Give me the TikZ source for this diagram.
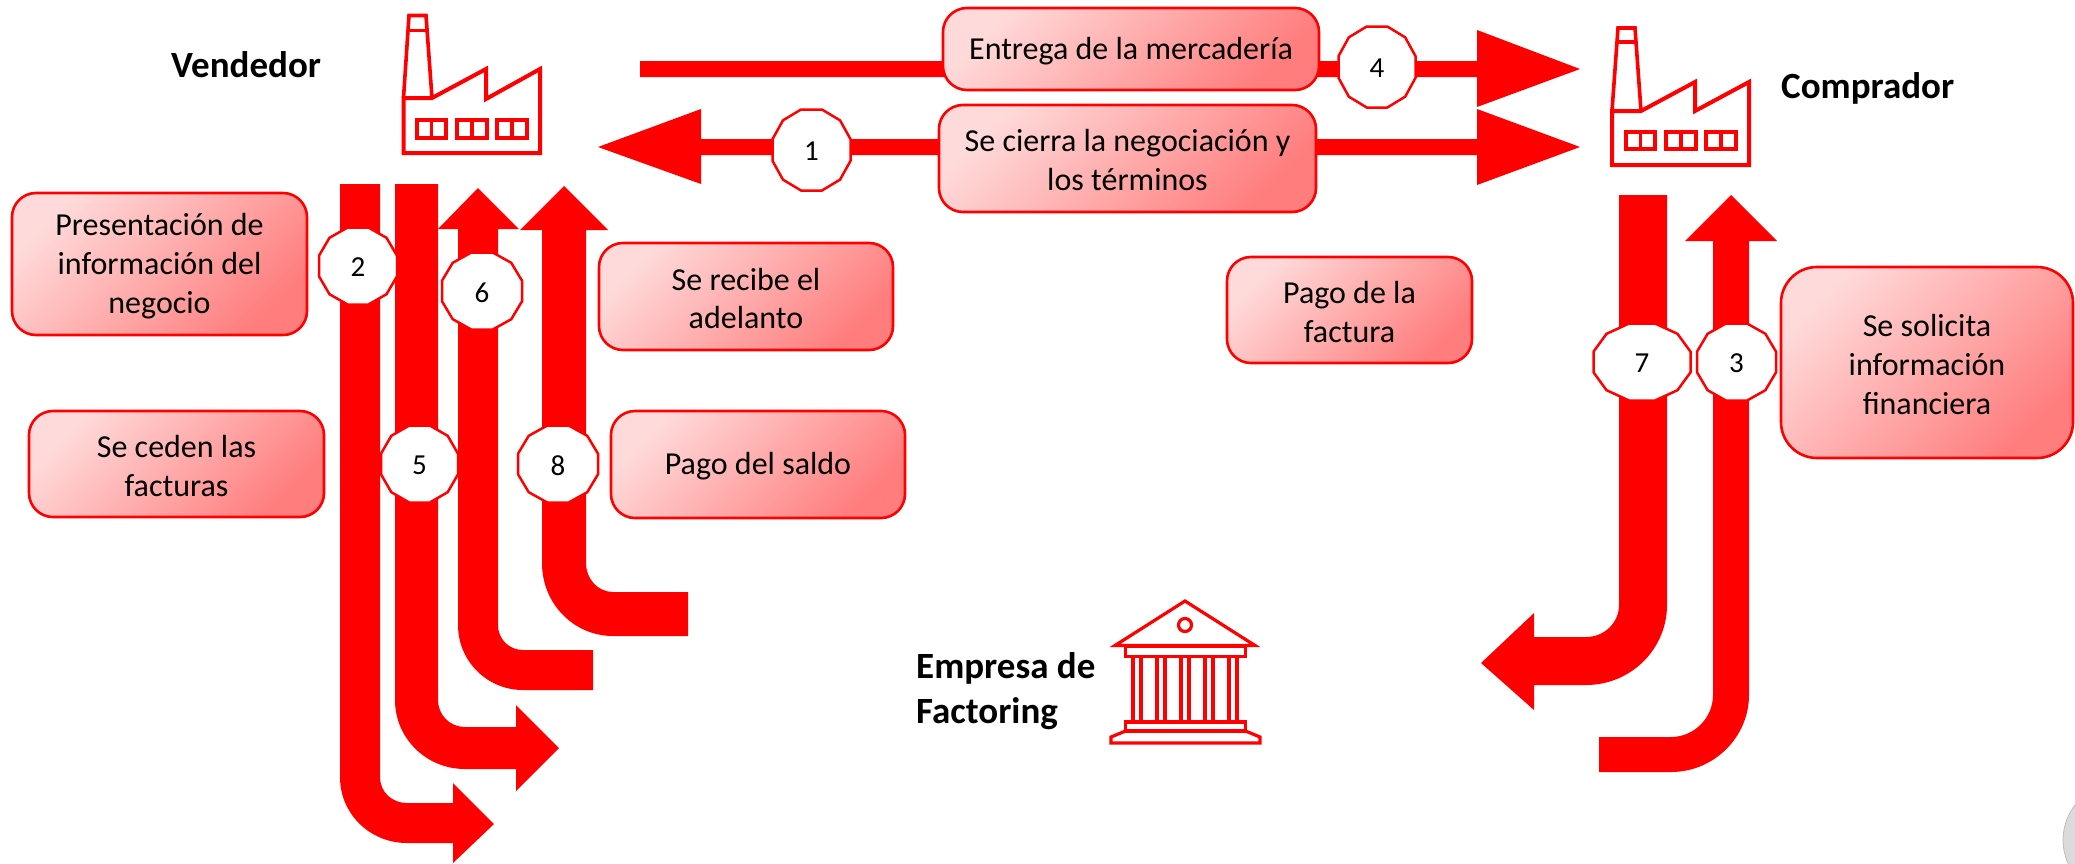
\documentclass[tikz,border=0pt]{standalone}
\usepackage{fontspec}
\setmainfont{Carlito}
\usetikzlibrary{calc}
\definecolor{rd}{RGB}{255,0,0}
\definecolor{gA}{RGB}{255,218,218}
\definecolor{gB}{RGB}{255,125,125}
\tikzset{
  band/.style={fill=rd,draw=none},
  icon/.style={draw=rd,line width=4pt,line join=miter,fill=none},
  thin icon/.style={draw=rd,line width=3.6pt,fill=none},
  bank line/.style={draw=rd,line width=3.2pt,fill=none},
  labelbox/.style={draw=rd,line width=2.6pt,rounded corners=#1,shade,shading=axis,left color=gA,right color=gB,shading angle=45,inner sep=0pt},
  labelbox/.default=24pt,
  labeltext/.style={inner sep=0pt,align=center,font=\fontsize{32}{39}\selectfont},
  num/.style={font=\fontsize{29}{32}\selectfont,inner sep=0pt},
  party/.style={font=\fontsize{37}{45}\selectfont\bfseries,inner sep=0pt,align=left,anchor=base west}
}
\newcommand{\dodeca}[6]{% name, cx, cy, rx (half width), ry (half height), text
  \fill[white,draw=rd,line width=2.5pt]
    (#2+#4,#3-0.268*#5) -- (#2+#4,#3+0.268*#5) -- (#2+0.732*#4,#3+0.732*#5) -- (#2+0.268*#4,#3+#5)
    -- (#2-0.268*#4,#3+#5) -- (#2-0.732*#4,#3+0.732*#5) -- (#2-#4,#3+0.268*#5) -- (#2-#4,#3-0.268*#5)
    -- (#2-0.732*#4,#3-0.732*#5) -- (#2-0.268*#4,#3-#5) -- (#2+0.268*#4,#3-#5) -- (#2+0.732*#4,#3-0.732*#5) -- cycle;
  \node[num] (#1) at (#2,#3+1.5) {#6};
}
\newcommand{\lbox}[7][24pt]{% radius; name, x0, y0, x1, y1, text
  \node[labelbox=#1,minimum width=#5pt-#3pt,minimum height=#6pt-#4pt] (#2) at ({(#3+#5)/2},{(#4+#6)/2}) {};
  \node[labeltext] (#2t) at ({(#3+#5)/2},{(#4+#6)/2+2}) {#7};
}
\begin{document}
\begin{tikzpicture}[x=1pt,y=-1pt]
\useasboundingbox (0,0) rectangle (2075,863);
\fill[white] (0,0) rectangle (2075,863);
% grey corner
\coordinate (cg) at (2120,840);
\begin{scope}
\clip (0,0) rectangle (2075,863);
\fill[gray!28,draw=gray!60,line width=0.6pt] (cg) circle (57);
\end{scope}
% horizontal arrows
\fill[band] (640,61) -- (1477,61) -- (1477,30) -- (1580,69) -- (1477,107) -- (1477,77) -- (640,77) -- cycle;
\fill[band] (598,147) -- (701,109) -- (701,139) -- (1477,139) -- (1477,109) -- (1580,147) -- (1477,185) -- (1477,155) -- (701,155) -- (701,184) -- cycle;
% arrow 2
\fill[band] (340,184) -- (380,184) -- (380,777) .. controls (380,792) and (392,803) .. (407,803) -- (453,803) -- (453,783) -- (494,824) -- (453,863) -- (453,843) -- (407,843) .. controls (370,843) and (340,814) .. (340,777) -- cycle;
% arrow 5
\fill[band] (395,184) -- (438,184) -- (438,700) .. controls (438,715) and (450,727) .. (465,727) -- (516,727) -- (516,705) -- (559,748) -- (516,791) -- (516,769) -- (465,769) .. controls (426,769) and (395,738) .. (395,700) -- cycle;
% arrow 6
\fill[band] (478,188) -- (519,229) -- (498,229) -- (498,625) .. controls (498,639) and (509,650) .. (523,650) -- (593,650) -- (593,690) -- (523,690) .. controls (487,690) and (458,661) .. (458,625) -- (458,229) -- (438,229) -- cycle;
% arrow 8
\fill[band] (564,186) -- (608,230) -- (586,230) -- (586,563) .. controls (586,579) and (598,592) .. (613,592) -- (688,592) -- (688,636) -- (613,636) .. controls (574,636) and (542,604) .. (542,563) -- (542,230) -- (520,230) -- cycle;
% arrow 7
\fill[band] (1619,195) -- (1667,195) -- (1667,605) .. controls (1667,649) and (1631,685) .. (1586,685) -- (1534,685) -- (1534,710) -- (1481,663) -- (1534,613) -- (1534,637) -- (1586,637) .. controls (1604,637) and (1619,623) .. (1619,605) -- cycle;
% arrow 3
\fill[band] (1731,195) -- (1777,241) -- (1749,241) -- (1749,695) .. controls (1749,737) and (1714,772) .. (1671,772) -- (1599,772) -- (1599,737) -- (1671,737) .. controls (1694,737) and (1713,718) .. (1713,695) -- (1713,241) -- (1685,241) -- cycle;
% boxes
\lbox{b2}{12}{193}{307}{335}{Presentación de\\información del\\negocio}
\lbox{b5}{29}{411}{324}{517}{Se ceden las\\facturas}
\lbox{b6}{599}{243}{893}{350}{Se recibe el\\adelanto}
\lbox{b8}{611}{411}{905}{518}{Pago del saldo}
\lbox{b4}{943}{8}{1319}{90}{Entrega de la mercadería}
\lbox{b1}{939}{105}{1316}{212}{Se cierra la negociación y\\los términos}
\lbox{b7}{1227}{257}{1472}{363}{Pago de la\\factura}
\lbox[36pt]{b3}{1781}{267}{2073}{458}{Se solicita\\información\\financiera}
% numbers
\dodeca{n1}{811.5}{150}{39}{40.5}{1}
\dodeca{n2}{358}{266}{39}{38.5}{2}
\dodeca{n3}{1736.5}{362}{39.5}{38.5}{3}
\dodeca{n4}{1377}{67}{38.5}{40.5}{4}
\dodeca{n5}{419.5}{464}{38.5}{38.5}{5}
\dodeca{n6}{482}{291}{40}{38.5}{6}
\dodeca{n7}{1642}{362}{48.5}{38.5}{7}
\dodeca{n8}{558}{464}{40}{38.5}{8}
% factory seller
\draw[icon] (403.5,98) -- (432,98) -- (486,69) -- (486,99) -- (540,69) -- (540,153) -- (403.5,153) -- cycle;
\draw[thin icon] (403.5,98) -- (409,15.5) -- (426,15.5) -- (432,98);
\draw[thin icon] (407,30.5) -- (428,30.5);
\foreach \a/\b in {417/446,457/487,497/527}{
  \draw[thin icon] (\a,120) rectangle (\b,138);
  \draw[thin icon] ({(\a+\b)/2},120) -- ({(\a+\b)/2},138);
}
% factory buyer
\draw[icon] (1612,111) -- (1641,111) -- (1695,82) -- (1695,111) -- (1749,82) -- (1749,165) -- (1612,165) -- cycle;
\draw[thin icon] (1612,111) -- (1618,28) -- (1635,28) -- (1641,111);
\draw[thin icon] (1617,42) -- (1636,42);
\foreach \a/\b in {1626/1655,1666/1696,1706/1736}{
  \draw[thin icon] (\a,132) rectangle (\b,149);
  \draw[thin icon] ({(\a+\b)/2},132) -- ({(\a+\b)/2},149);
}
% bank
\draw[bank line,line join=miter] (1115,645.5) -- (1185,601) -- (1255,645.5) -- cycle;
\draw[bank line] (1185,625) circle (6.5);
\draw[bank line] (1125.5,646) rectangle (1245.5,656.5);
\foreach \a in {1133,1141,1157,1165,1181,1189,1205,1213,1229,1237}{
  \draw[bank line] (\a,657) -- (\a,721);
}
\draw[bank line] (1125.5,722) rectangle (1245.5,731);
\draw[bank line] (1125.5,731) -- (1111,737) -- (1111,743) -- (1260,743) -- (1260,737) -- (1245.5,731);
% party labels
\node[party] (tv) at (171,77) {Vendedor};
\node[party] (tc) at (1781,98) {Comprador};
\node[party] (te) at (916,678) {Empresa de};
\node[party] (tf) at (916,723) {Factoring};
\end{tikzpicture}
\end{document}
